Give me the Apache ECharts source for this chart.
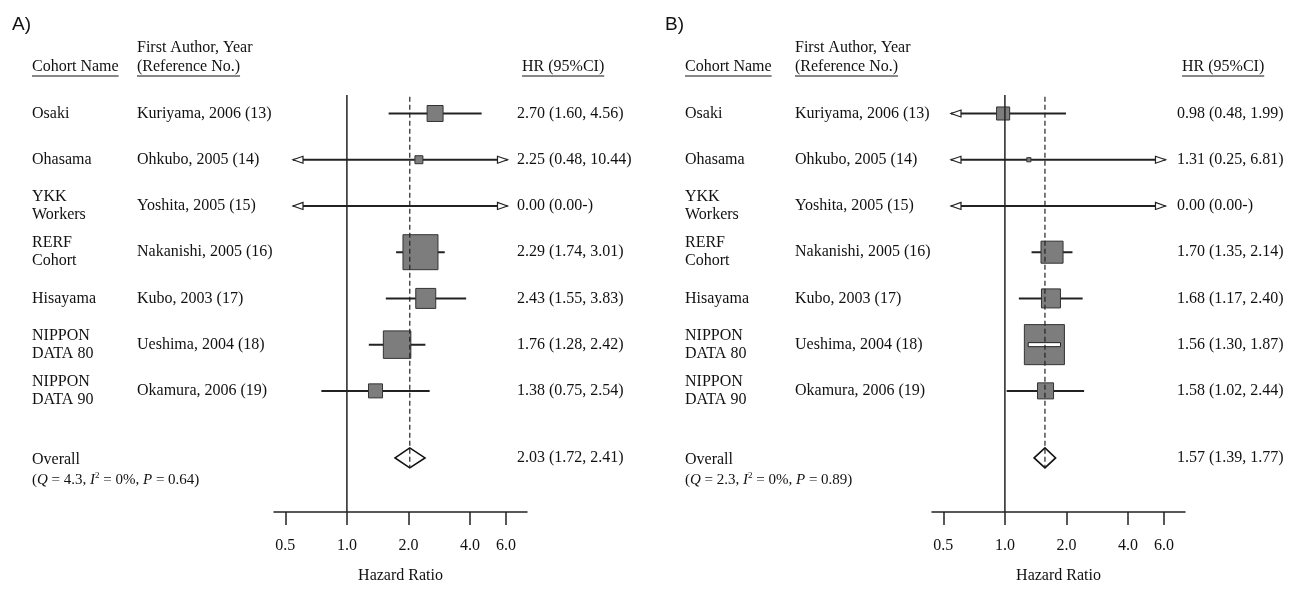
<!DOCTYPE html>
<html>
<head>
<meta charset="utf-8">
<title>Forest plots</title>
<script src="https://cdn.jsdelivr.net/npm/echarts@6.0.0/dist/echarts.min.js"></script>
<style>
    html, body { margin: 0; padding: 0; background: #fff; }
    #chart { width: 1294px; height: 589px; }
</style>
</head>
<body>
<div id="chart"></div>
<script>
    // rows, same order in both panels
    const cohorts = ['Osaki', 'Ohasama', 'YKK\nWorkers', 'RERF\nCohort', 'Hisayama', 'NIPPON\nDATA 80', 'NIPPON\nDATA 90'];
    const authors = ['Kuriyama, 2006 (13)', 'Ohkubo, 2005 (14)', 'Yoshita, 2005 (15)', 'Nakanishi, 2005 (16)',
        'Kubo, 2003 (17)', 'Ueshima, 2004 (18)', 'Okamura, 2006 (19)'];

    // panel A
    const hrA = [2.70, 2.25, 0.00, 2.29, 2.43, 1.76, 1.38];
    const loA = [1.60, 0.48, 0.00, 1.74, 1.55, 1.28, 0.75];
    const hiA = [4.56, 10.44, null, 3.01, 3.83, 2.42, 2.54];
    const weightA = [8.8, 2.2, 0, 42.3, 13.8, 26.1, 6.8]; // % weight
    const overallA = [2.03, 1.72, 2.41];
    const hetA = ['4.3', '0', '0.64']; // Q, I2, P

    // panel B
    const hrB = [0.98, 1.31, 0.00, 1.70, 1.68, 1.56, 1.58];
    const loB = [0.48, 0.25, 0.00, 1.35, 1.17, 1.30, 1.02];
    const hiB = [1.99, 6.81, null, 2.14, 2.40, 1.87, 2.44];
    const weightB = [5.9, 0.6, 0, 16.8, 12.5, 55.4, 8.9];
    const overallB = [1.57, 1.39, 1.77];
    const hetB = ['2.3', '0', '0.89'];

    const tickValues = [0.5, 1, 2, 4, 6];

    const serif = '"Liberation Serif", "Times New Roman", serif';
    const ink = '#222';
    const boxFill = '#7d7d7d';
    const boxScale = 5.38;
    const clipLo = 0.545, clipHi = 6.1; // arrows start where CI leaves the drawn range
    const yMin = 0.6, yMax = 9.62;
    const overallRow = 8.45;

    const panels = [
        {tag: 'A)', left: 274, hr: hrA, lo: loA, hi: hiA, weight: weightA, overall: overallA, het: hetA,
            cols: {tag: 12, cohort: 32, author: 137, value: 517, head: 522}},
        {tag: 'B)', left: 932, hr: hrB, lo: loB, hi: hiB, weight: weightB, overall: overallB, het: hetB,
            cols: {tag: 665, cohort: 685, author: 795, value: 1177, head: 1182}}
    ];

    function fmtCI(hr, lo, hi) {
        if (hi === null) return hr.toFixed(2) + ' (' + lo.toFixed(2) + '-)';
        return hr.toFixed(2) + ' (' + lo.toFixed(2) + ', ' + hi.toFixed(2) + ')';
    }

    function txt(x, y, text) {
        return {
            type: 'text', x: x, y: y,
            style: {
                text: text, fill: '#111', fontFamily: serif, fontSize: 16, lineHeight: 18,
                align: 'left', verticalAlign: 'middle', textAlign: 'left', textVerticalAlign: 'middle'
            }
        };
    }

    function arrow(x, y, dir) {
        // dir 1: head pointing left, -1: pointing right
        return {
            type: 'polygon',
            shape: {points: [[x, y], [x + dir * 10, y - 3.5], [x + dir * 10, y + 3.5]]},
            style: {fill: '#fff', stroke: ink, lineWidth: 1.2}
        };
    }

    function makeRender(p) {
        const n = p.hr.length;
        return function (params, api) {
            const i = params.dataIndex;
            const y = api.coord([1, api.value(1)])[1];
            const kids = [];
            if (i < n) {
                kids.push(txt(p.cols.cohort, y, cohorts[i]));
                kids.push(txt(p.cols.author, y, authors[i]));
                kids.push(txt(p.cols.value, y, fmtCI(p.hr[i], p.lo[i], p.hi[i])));
                const lo = p.lo[i];
                const hi = p.hi[i] === null ? Infinity : p.hi[i];
                const xa = api.coord([Math.max(lo, clipLo), 1])[0];
                const xb = api.coord([Math.min(hi, clipHi), 1])[0];
                kids.push({type: 'line', shape: {x1: xa, y1: y, x2: xb, y2: y}, style: {stroke: ink, lineWidth: 2}});
                if (lo < clipLo) kids.push(arrow(xa, y, 1));
                if (hi > clipHi) kids.push(arrow(xb, y, -1));
                if (p.weight[i] > 0) {
                    const cx = api.coord([p.hr[i], 1])[0];
                    const s = boxScale * Math.sqrt(p.weight[i]);
                    kids.push({
                        type: 'rect', shape: {x: cx - s / 2, y: y - s / 2, width: s, height: s},
                        style: {fill: boxFill, stroke: '#333', lineWidth: 1}
                    });
                    // CI hidden inside the box: draw it white
                    if (xa > cx - s / 2 && xb < cx + s / 2) {
                        kids.push({
                            type: 'rect', shape: {x: xa, y: y - 2, width: xb - xa, height: 4},
                            style: {fill: '#fff', stroke: ink, lineWidth: 1}
                        });
                    }
                }
            } else {
                const o = p.overall;
                kids.push(txt(p.cols.cohort, y + 2, 'Overall'));
                kids.push({
                    type: 'text', x: p.cols.cohort, y: y + 22,
                    style: {
                        text: '({i|Q} = ' + p.het[0] + ', {i|I}{s|2} = ' + p.het[1] + '%, {i|P} = ' + p.het[2] + ')',
                        fill: '#111', fontFamily: serif, fontSize: 15, lineHeight: 18,
                        align: 'left', verticalAlign: 'middle', textAlign: 'left', textVerticalAlign: 'middle',
                        rich: {
                            i: {fontFamily: serif, fontSize: 15, fontStyle: 'italic', fill: '#111'},
                            s: {fontFamily: serif, fontSize: 9, fill: '#111', verticalAlign: 'top', lineHeight: 18}
                        }
                    }
                });
                kids.push(txt(p.cols.value, y, fmtCI(o[0], o[1], o[2])));
                const xc = api.coord([o[0], 1])[0];
                const xl = api.coord([o[1], 1])[0];
                const xr = api.coord([o[2], 1])[0];
                kids.push({
                    type: 'polygon',
                    shape: {points: [[xl, y], [xc, y - 10], [xr, y], [xc, y + 10]]},
                    style: {fill: 'none', stroke: '#111', lineWidth: 1.6}
                });
            }
            return {type: 'group', children: kids};
        };
    }

    // text widths for the underlined headers
    const measureCtx = document.createElement('canvas').getContext('2d');
    measureCtx.font = '16px ' + serif;

    function underlined(x, y, text) {
        const w = measureCtx.measureText(text).width;
        return [
            {type: 'text', x: x, y: y, style: {text: text, fill: '#111', font: '16px ' + serif, verticalAlign: 'middle'}},
            {type: 'line', shape: {x1: x, y1: y + 9, x2: x + w, y2: y + 9}, style: {stroke: '#111', lineWidth: 1}}
        ];
    }

    const grids = [], xAxes = [], yAxes = [], series = [], graphics = [];

    panels.forEach((p, k) => {
        grids.push({left: p.left, width: 253, top: 95, height: 424});
        xAxes.push({
            type: 'log', logBase: 2, gridIndex: k, min: 0.44, max: 7.6,
            name: 'Hazard Ratio', nameLocation: 'middle', nameGap: 56,
            nameTextStyle: {fontFamily: serif, fontSize: 16, color: '#111'},
            axisLine: {lineStyle: {color: ink, width: 1.5}},
            axisTick: {show: true, length: 13, customValues: tickValues, lineStyle: {color: ink, width: 1.5}},
            axisLabel: {
                customValues: tickValues, margin: 26, fontFamily: serif, fontSize: 16, color: '#111',
                formatter: v => Number(v).toFixed(1)
            },
            splitLine: {show: false}, minorTick: {show: false}
        });
        yAxes.push({type: 'value', gridIndex: k, inverse: true, min: yMin, max: yMax, show: false});

        // reference line at HR = 1 and dashed line at the pooled HR
        series.push({
            type: 'line', xAxisIndex: k, yAxisIndex: k, symbol: 'none', silent: true,
            data: [[1, yMin], [1, yMax]], lineStyle: {color: ink, width: 1.5}
        });
        series.push({
            type: 'line', xAxisIndex: k, yAxisIndex: k, symbol: 'none', silent: true,
            data: [[p.overall[0], yMin + 0.04], [p.overall[0], overallRow + 0.21]],
            lineStyle: {color: ink, width: 1.2, type: [5, 3]}
        });

        const rowData = p.hr.map((_, i) => [1, i + 1]);
        rowData.push([1, overallRow]);
        series.push({
            type: 'custom', xAxisIndex: k, yAxisIndex: k, clip: false, silent: true,
            encode: {x: 0, y: 1},
            data: rowData,
            renderItem: makeRender(p)
        });

        graphics.push({
            type: 'text', x: p.cols.tag, y: 25,
            style: {text: p.tag, fill: '#111', font: '19px "Liberation Sans", Arial, sans-serif', verticalAlign: 'middle'}
        });
        graphics.push({
            type: 'text', x: p.cols.author, y: 48,
            style: {text: 'First Author, Year', fill: '#111', font: '16px ' + serif, verticalAlign: 'middle'}
        });
        graphics.push(...underlined(p.cols.cohort, 67, 'Cohort Name'));
        graphics.push(...underlined(p.cols.author, 67, '(Reference No.)'));
        graphics.push(...underlined(p.cols.head, 67, 'HR (95%CI)'));
    });

    const chart = echarts.init(document.getElementById('chart'));
    chart.setOption({
        animation: false,
        backgroundColor: '#fff',
        grid: grids,
        xAxis: xAxes,
        yAxis: yAxes,
        series: series,
        graphic: graphics
    });
</script>
</body>
</html>
